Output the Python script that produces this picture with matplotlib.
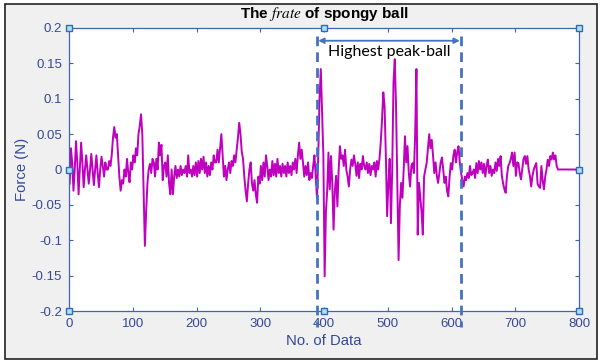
import numpy as np
import matplotlib.pyplot as plt
from matplotlib.patches import Rectangle
from matplotlib.ticker import FormatStrFormatter

# force readings, every 2nd sample
seg_a_start = 1
seg_a = [-0.02, 0.03, 0.01, -0.03, 0.0, 0.04, 0.01, -0.035, 0.0, 0.038,
         0.01, -0.025, 0.0, 0.02, 0.0, -0.02, 0.0, 0.022, 0.0, -0.022,
         0.0, 0.02, -0.005, -0.025, 0.0, 0.018, 0.005, -0.01, 0.01, 0.0,
         0.0, 0.012, 0.005, 0.02, 0.045, 0.06, 0.045, 0.05, 0.02, -0.01,
         -0.03, -0.015, -0.02, 0.0, -0.01, 0.015, -0.005, -0.018, 0.01, 0.0,
         0.02, 0.01, 0.03, 0.02, 0.05, 0.062, 0.078, 0.05, -0.03, -0.108,
         -0.06, -0.02, 0.0, 0.008, -0.005, 0.015]
seg_b_start = 133
seg_b = [0.01, -0.01, 0.015, 0.0, 0.038, 0.02, 0.035, -0.015, 0.005, 0.01,
         -0.01, 0.02, -0.02, -0.035, 0.0, -0.035, -0.01, 0.005, -0.012, 0.0,
         -0.01, 0.005, -0.008, 0.0, -0.005, 0.005, -0.01, 0.02, -0.005, 0.0,
         -0.01, 0.005, -0.008, 0.01, -0.01, 0.012, -0.005, 0.015, 0.0, 0.018,
         -0.005, 0.01, -0.01, 0.005, -0.008, 0.01, 0.0, 0.02, 0.01, 0.01,
         0.028, 0.01, 0.03, 0.05, 0.02, -0.01, 0.005, -0.015, 0.0, 0.01,
         -0.005, 0.012, 0.005, 0.02, 0.01, 0.028, 0.045, 0.066, 0.05, 0.025]
seg_c_start = 273
seg_c = [0.015, -0.01, -0.03, -0.045, -0.02, 0.0, 0.01, -0.02, -0.03, -0.015,
         -0.035, -0.047, -0.01, -0.02, 0.005, -0.015, 0.01, -0.01, 0.02, 0.005,
         -0.015, 0.0, -0.01, 0.012, -0.008, 0.008, -0.01, 0.015, -0.005, 0.005,
         -0.01, 0.008, -0.005, 0.005, -0.01, 0.01, -0.005, 0.005, -0.008, 0.01,
         0.0, 0.015, -0.005, 0.02, 0.038, 0.015, 0.028, 0.01, -0.01, 0.005,
         -0.008, 0.01, -0.015, -0.005, -0.012, 0.005, 0.02, -0.01, -0.04, 0.02,
         0.1, 0.142, 0.08, 0.02, -0.151, -0.06, -0.03, 0.024, -0.028, 0.019,
         -0.02, -0.085, -0.03, -0.009, -0.052, 0.0, 0.033, 0.015, 0.02, 0.005,
         0.028, 0.0, -0.01, -0.024, 0.0, 0.014, 0.005, 0.02, 0.008, -0.009,
         0.01, -0.012, 0.008, 0.0, 0.019, 0.005, 0.0, 0.01, -0.005, 0.008,
         -0.008, 0.005, 0.0, 0.01, -0.01, 0.012, 0.0, 0.015, 0.038, 0.07,
         0.109, 0.09, 0.02, -0.066, -0.02, 0.015, -0.076, 0.0, 0.123, 0.156,
         0.09, -0.02, -0.128, -0.05, -0.019, -0.04, 0.0, 0.047, 0.01, 0.033,
         -0.005, -0.024, 0.005, 0.009, -0.005, 0.05, 0.142, -0.092, -0.019, -0.038,
         -0.06, -0.092, -0.01, 0.0, 0.009, 0.03, 0.05, 0.03, 0.042, 0.02,
         -0.005, 0.01, -0.009, -0.019, -0.005, 0.01, 0.017, 0.0, -0.019, -0.01,
         -0.03, -0.038, -0.01, 0.009, 0.0, 0.02, 0.028, 0.01, 0.025, 0.033,
         0.01, -0.005, -0.015, -0.024, -0.01, -0.015, -0.005, -0.012, 0.005, -0.008,
         -0.005, 0.0, -0.012, 0.009, -0.005, 0.012, 0.0, 0.01, -0.005, 0.008,
         -0.01, 0.005, 0.014, -0.005, 0.005, -0.009, 0.0, -0.005, 0.01, -0.002,
         0.015, 0.005, 0.019, -0.009, -0.02, -0.028, -0.033, -0.009, 0.005, 0.009,
         0.015, 0.024, 0.005, 0.024, -0.009, 0.01, 0.009, -0.005, -0.014, 0.0,
         0.015, 0.019, 0.008, 0.019, 0.0, -0.009, -0.024, -0.009, 0.0, 0.005,
         0.009, -0.02, -0.024, -0.026, 0.005, -0.015, -0.028, -0.01, 0.0, 0.014,
         0.005, 0.019, 0.014, 0.024, 0.014, 0.02, 0.005, 0.0]
tail_x = [800]
tail_y = [0.0]

peak_lo, peak_hi = 389, 615
peak_label = 'Highest peak-ball'

xticks = [0, 100, 200, 300, 400, 500, 600, 700, 800]
yticks = [-0.2, -0.15, -0.1, -0.05, 0, 0.05, 0.1, 0.15, 0.2]

plt.rcParams['font.family'] = 'Liberation Sans'
plt.rcParams['mathtext.fontset'] = 'stix'

x = np.concatenate([np.arange(seg_a_start, seg_a_start + 2 * len(seg_a), 2),
                    np.arange(seg_b_start, seg_b_start + 2 * len(seg_b), 2),
                    np.arange(seg_c_start, seg_c_start + 2 * len(seg_c), 2),
                    tail_x])
y = np.concatenate([seg_a, seg_b, seg_c, tail_y])

axis_blue = '#4361b5'
text_blue = '#34489c'
mark_blue = '#4472c4'

fig = plt.figure(figsize=(6.05, 3.61), dpi=100, facecolor='white')
# grey matlab figure window with a dark frame
fig.add_artist(Rectangle((5 / 605, 1 - 359 / 361), 592 / 605, 355 / 361,
                         transform=fig.transFigure, facecolor='#f0f0f0',
                         edgecolor='#222222', lw=1.2, zorder=-10))

ax = fig.add_axes([69 / 605, 1 - 311 / 361, 510 / 605, 283 / 361])
ax.plot(x, y, color='#bf00bf', lw=1.4, zorder=2)

ax.set_xlim(0, 800)
ax.set_ylim(-0.2, 0.2)
ax.set_xticks(xticks)
ax.set_yticks(yticks)
ax.yaxis.set_major_formatter(FormatStrFormatter('%g'))
ax.tick_params(direction='in', top=True, right=True, length=3, width=0.8,
               color=axis_blue, labelcolor=text_blue, labelsize=9.5, pad=5)
for s in ax.spines.values():
    s.set_color(axis_blue)
    s.set_linewidth(0.9)

ax.set_xlabel('No. of Data', color=text_blue, fontsize=10.7, labelpad=3)
ax.set_ylabel('Force (N)', color=text_blue, fontsize=10.7, labelpad=2)
ax.set_title(r'The $frate$ of spongy ball', fontsize=11, fontweight='bold', pad=7)

# peak region markers
for xv in (peak_lo, peak_hi):
    ax.plot([xv, xv], [0.188, -0.222], color=mark_blue, lw=2.0,
            ls=(0, (3.5, 2.2)), clip_on=False, zorder=4)
ax.annotate('', xy=(peak_lo + 2, 0.182), xytext=(peak_hi - 2, 0.182),
            arrowprops=dict(arrowstyle='<|-|>', color=mark_blue, lw=1.3,
                            mutation_scale=8, shrinkA=0, shrinkB=0), zorder=4)
ax.text((peak_lo + peak_hi) / 2, 0.166, peak_label, ha='center', va='center',
        fontsize=11.5, family='Lato', color='black', zorder=5)

# plot-edit selection handles
hx = [0, 400, 800, 0, 800, 0, 400, 800]
hy = [0.2, 0.2, 0.2, 0, 0, -0.2, -0.2, -0.2]
ax.plot(hx, hy, ls='none', marker='s', ms=4.5, mfc='#b4dcf2', mec='#2a6eb8',
        mew=1.0, clip_on=False, zorder=6)

fig.savefig('out.png', dpi=100, facecolor=fig.get_facecolor())
